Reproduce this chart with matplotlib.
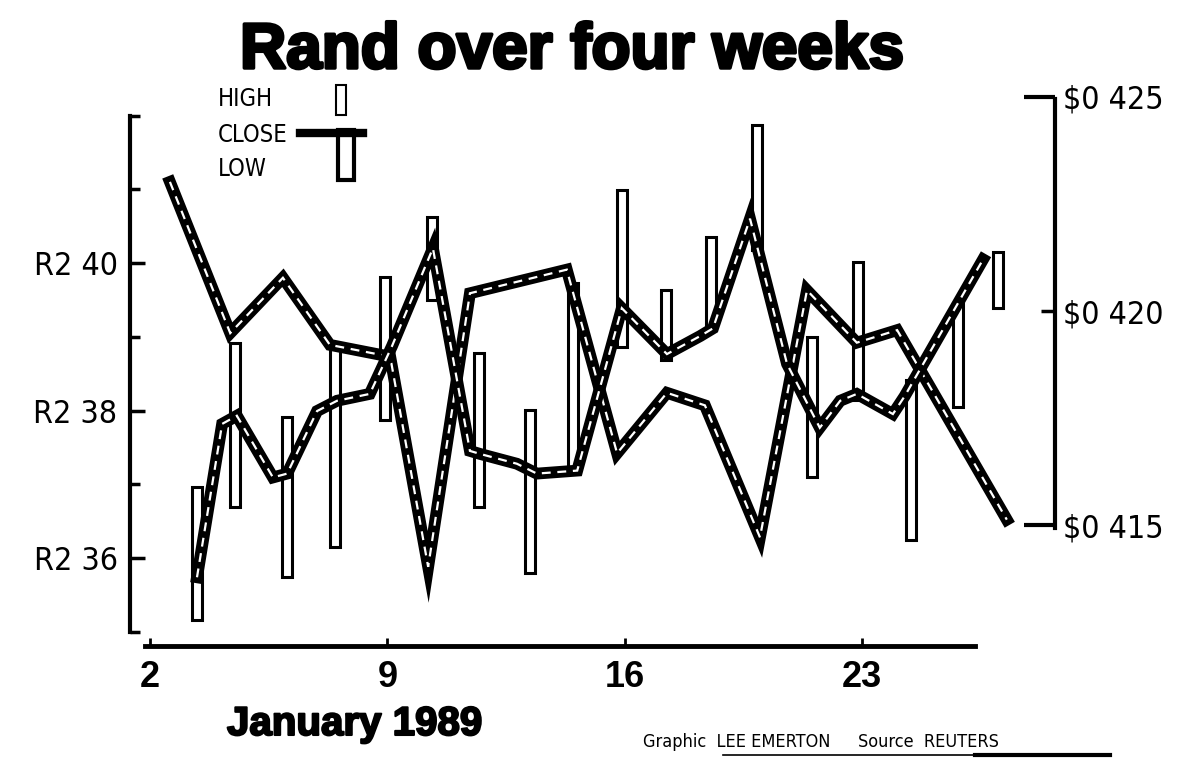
import matplotlib

matplotlib.use("Agg")
import matplotlib.pyplot as plt
from matplotlib import patheffects
from matplotlib.lines import Line2D
from matplotlib.patches import Rectangle

# x is in trading days from 2 January (2 -> 0, 9 -> 5, 16 -> 10, 23 -> 15)
rand_x = [0.42, 1.69, 2.80, 3.79, 5.06, 5.86, 6.74, 8.78, 9.84, 10.89,
          11.69, 12.85, 13.84, 14.89, 15.74, 18.05]
rand_close = [2.4110, 2.3905, 2.3980, 2.3889, 2.3873, 2.3588, 2.3959, 2.3991,
              2.3742, 2.3824, 2.3807, 2.3628, 2.3963, 2.3892, 2.3909, 2.3652]

dollar_x = [0.99, 1.52, 1.83, 2.59, 2.89, 3.52, 3.94, 4.63, 5.10, 5.96, 6.74,
            6.95, 7.73, 8.15, 9.00, 9.94, 10.89, 11.59, 11.86, 12.64, 13.42,
            14.11, 14.54, 14.89, 15.65, 15.90, 17.55]
dollar_close = [0.41379, 0.41737, 0.41756, 0.41612, 0.41621, 0.41767, 0.41791,
                0.41807, 0.41919, 0.42147, 0.41674, 0.41667, 0.41644, 0.41621,
                0.41628, 0.42007, 0.41900, 0.41942, 0.41960, 0.42216, 0.41877,
                0.41728, 0.41791, 0.41807, 0.41760, 0.41802, 0.42121]

bar_x = [0.99, 1.79, 2.89, 3.90, 4.95, 5.94, 6.93, 8.01, 8.91, 9.94, 10.87,
         11.82, 12.79, 13.95, 14.91, 16.03, 17.02, 17.86]
bar_high = [2.3696, 2.3892, 2.3791, 2.3886, 2.3981, 2.4062, 2.3878, 2.3801,
            2.3973, 2.4099, 2.3963, 2.4035, 2.4187, 2.3900, 2.4001, 2.3841,
            2.3946, 2.4015]
bar_low = [2.3516, 2.3669, 2.3574, 2.3615, 2.3787, 2.3950, 2.3669, 2.3580,
           2.3719, 2.3886, 2.3868, 2.3909, 2.4018, 2.3710, 2.3814, 2.3624,
           2.3805, 2.3939]

day_ticks = [0, 5, 10, 15]
day_labels = ["2", "9", "16", "23"]
rand_ticks = [2.36, 2.38, 2.40]
rand_labels = ["R2 36", "R2 38", "R2 40"]
dollar_ticks = [0.415, 0.425]
dollar_labels = ["$0 415", "$0 425"]

W, H = 1196, 758
BOLD = ["Liberation Sans", "DejaVu Sans"]
plt.rcParams["font.family"] = ["DejaVu Sans"]
plt.rcParams["font.stretch"] = "condensed"


def fx(px):
    return px / W


def fy(py):
    return 1 - py / H


def double_line(axis, x, y):
    axis.plot(x, y, color="black", lw=8.5, solid_joinstyle="miter", zorder=3)
    axis.plot(x, y, color="white", lw=1.6, linestyle=(0, (4, 3)),
              dash_joinstyle="miter", zorder=4)


fig = plt.figure(figsize=(W / 100, H / 100), dpi=100)
ax = fig.add_axes([fx(130), fy(646), fx(1055) - fx(130), fy(97) - fy(646)])
ax2 = ax.twinx()

ax.set_xlim(-0.421, 19.065)
ax.set_ylim(2.34807, 2.42251)
ax2.set_ylim(0.412186, 0.424953)

ax.bar(bar_x, [h - l for h, l in zip(bar_high, bar_low)], bottom=bar_low,
       width=0.22, color="white", edgecolor="black", linewidth=2.2, zorder=2)
double_line(ax, rand_x, rand_close)
double_line(ax2, dollar_x, dollar_close)

for s in ["top", "right"]:
    ax.spines[s].set_visible(False)
for s in ["top", "left", "bottom"]:
    ax2.spines[s].set_visible(False)
ax.spines["left"].set_bounds(2.35, 2.42)
ax.spines["left"].set_linewidth(3)
ax.spines["bottom"].set_bounds(-0.105, 17.38)
ax.spines["bottom"].set_linewidth(3.5)
ax2.spines["right"].set_bounds(0.41495, 0.424953)
ax2.spines["right"].set_linewidth(3)

ax.set_xticks(day_ticks, labels=day_labels)
ax.tick_params(axis="x", direction="in", length=6, width=2, pad=10)
for t in ax.get_xticklabels():
    t.set_fontfamily(BOLD)
    t.set_fontstretch("normal")
    t.set_fontweight("bold")
    t.set_fontsize(26)

ax.set_yticks(rand_ticks, labels=rand_labels)
ax.set_yticks([2.35, 2.37, 2.39, 2.41, 2.42], minor=True)
ax.tick_params(axis="y", which="major", direction="in", length=11, width=2.5,
               pad=9, labelsize=23)
ax.tick_params(axis="y", which="minor", direction="in", length=7, width=2.5)

ax2.set_yticks(dollar_ticks, labels=dollar_labels)
ax2.set_yticks([0.420], labels=["$0 420"], minor=True)
ax2.tick_params(axis="y", which="major", direction="in", length=22, width=3,
                pad=6, labelsize=23)
ax2.tick_params(axis="y", which="minor", direction="in", length=10, width=2.5,
                pad=6, labelsize=23)

title = fig.text(fx(572), fy(68), "Rand over four weeks", ha="center",
                 va="baseline", fontsize=46, fontweight="bold", family=BOLD,
                 fontstretch="normal")
title.set_path_effects([patheffects.withStroke(linewidth=2.5, foreground="black")])
month = fig.text(fx(227), fy(735), "January 1989", ha="left", va="baseline",
                 fontsize=29, fontweight="bold", family=BOLD, fontstretch="normal")
month.set_path_effects([patheffects.withStroke(linewidth=1.5, foreground="black")])

# legend key
for label, py in [("HIGH", 99), ("CLOSE", 135), ("LOW", 169)]:
    fig.text(fx(218), fy(py), label, ha="left", va="center", fontsize=17)
fig.add_artist(Rectangle((fx(336), fy(115)), 10 / W, 30 / H,
                         transform=fig.transFigure, facecolor="white",
                         edgecolor="black", lw=1.5))
fig.add_artist(Rectangle((fx(338), fy(180)), 16 / W, 50 / H,
                         transform=fig.transFigure, facecolor="white",
                         edgecolor="black", lw=3))
fig.add_artist(Line2D([fx(300), fx(363)], [fy(133), fy(133)], lw=6,
                      color="black", transform=fig.transFigure))

fig.text(fx(643), fy(747), "Graphic  LEE EMERTON", fontsize=13, va="baseline")
fig.text(fx(858), fy(747), "Source  REUTERS", fontsize=13, va="baseline")
fig.add_artist(Line2D([fx(723), fx(1110)], [fy(755), fy(755)], lw=1.2,
                      color="black", transform=fig.transFigure))
fig.add_artist(Line2D([fx(975), fx(1110)], [fy(755), fy(755)], lw=3,
                      color="black", transform=fig.transFigure))

fig.savefig("out.png", dpi=100, facecolor="white")
